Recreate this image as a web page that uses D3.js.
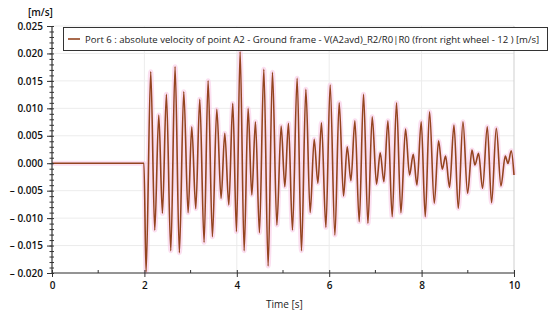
<!DOCTYPE html>
<html><head><meta charset="utf-8">
<script src="https://cdn.jsdelivr.net/npm/d3@7"></script>
<style>
body{margin:0;background:#fff;}
svg{display:block;font-family:"Open Sans","DejaVu Sans",sans-serif;}
</style></head><body>
<svg id="c" width="550" height="320"></svg>
<script>
// Data: times (s) and velocity values (m/s) at the extrema of the signal
const times = [0, 1.99,
 2.036,2.137,2.224,2.311,2.39,2.476,2.571,2.664,2.757,2.852,2.946,3.025,3.112,3.198,3.292,3.379,3.472,3.567,3.66,3.74,3.827,3.913,
 3.993,4.072,4.159,4.245,4.325,4.404,4.49,4.585,4.678,4.772,4.867,4.96,5.04,5.118,5.205,5.306,5.4,5.495,5.588,5.675,5.755,5.833,5.928,6.021,
 6.123,6.216,6.31,6.39,6.47,6.556,6.65,6.743,6.838,6.931,7.024,7.104,7.184,7.271,7.364,7.457,7.552,7.652,7.739,7.819,7.899,7.992,
 8.079,8.172,8.274,8.367,8.447,8.519,8.605,8.701,8.794,8.895,8.995,9.09,9.155,9.233,9.32,9.422,9.515,9.617,9.718,9.811,9.87,9.941,10.0];
const values = [0, 0,
 -0.0198,0.01667,-0.01217,0.00878,-0.00913,0.01255,-0.01594,0.01758,-0.0163,0.01303,-0.00901,0.00665,-0.00828,0.01164,-0.01441,0.01503,-0.01339,0.00981,-0.0064,0.00545,-0.00761,0.0109,
 -0.01247,0.0203,-0.01594,0.0100,-0.00579,0.00756,-0.01266,0.0171,-0.01873,0.01656,-0.01126,0.00678,-0.00428,0.00727,-0.01217,0.01547,-0.01594,0.01346,-0.00901,0.00435,-0.00366,0.00738,-0.01168,0.01425,
 -0.01308,0.01102,-0.00598,0.0030,-0.00319,0.00774,-0.01066,0.01255,-0.01095,0.00847,-0.00379,0.00191,-0.00337,0.00774,-0.00975,0.01102,-0.00901,0.00623,-0.00215,0.00162,-0.00397,0.00756,
 -0.00975,0.00938,-0.0073,0.0041,-0.00111,0.00131,-0.00439,0.00696,-0.00822,0.00756,-0.00548,0.0024,-0.00033,0.0018,-0.00457,0.00665,-0.0072,0.00636,-0.00415,0.00131,-0.00002,0.00228,-0.00215];
const xTicks = [0,2,4,6,8,10];
const xMinorTicks = [1,3,5,7,9];
const yTicks = [-0.020,-0.015,-0.010,-0.005,0.000,0.005,0.010,0.015,0.020,0.025];
const yTickLabels = ["– 0.020","– 0.015","– 0.010","– 0.005","0.000","0.005","0.010","0.015","0.020","0.025"];
const legendText = "Port 6 : absolute velocity of point A2 - Ground frame - V(A2avd)_R2/R0|R0 (front right wheel - 12 ) [m/s]";
const yUnit = "[m/s]";
const xTitle = "Time [s]";

const svg = d3.select("#c");
const L=52, R=514, T=26, B=273;
const x = d3.scaleLinear().domain([0,10]).range([L,R]);
const y = d3.scaleLinear().domain([-0.020,0.025]).range([B,T]);
const lineColor = "#94441f";

// grid
const g = svg.append("g");
g.selectAll(".hg").data(yTicks).join("line")
 .attr("x1",L).attr("x2",R).attr("y1",d=>y(d)).attr("y2",d=>y(d))
 .attr("stroke","#ececec").attr("stroke-width",1);
g.selectAll(".vg").data(xTicks.slice(1)).join("line")
 .attr("y1",T).attr("y2",B).attr("x1",d=>x(d)).attr("x2",d=>x(d))
 .attr("stroke",d=>d===10?"#cfcfcf":"#ececec").attr("stroke-width",1);

// line
const line = d3.line().x((d,i)=>x(times[i])).y(d=>y(d)).curve(d3.curveMonotoneX);
svg.append("path").datum(values).attr("d",line).attr("fill","none")
 .attr("stroke","#f9c9e6").attr("stroke-width",5).attr("stroke-opacity",0.6).attr("stroke-linejoin","round");
svg.append("path").datum(values).attr("d",line).attr("fill","none")
 .attr("stroke",lineColor).attr("stroke-width",1.6).attr("stroke-linejoin","round");

// axes
const axColor = "#333";
const yAxis = d3.axisLeft(y).tickValues(yTicks).tickFormat((d,i)=>yTickLabels[i]).tickSize(5).tickPadding(4);
const ya = svg.append("g").attr("transform",`translate(${L},0)`).call(yAxis);
const yMinor = d3.range(-20,26).map(v=>v/1000);
ya.append("g").selectAll("line").data(yMinor).join("line")
 .attr("x1",-2.5).attr("x2",2).attr("y1",d=>y(d)+0.5).attr("y2",d=>y(d)+0.5).attr("stroke",axColor);
const xAxis = d3.axisBottom(x).tickValues(xTicks).tickFormat(d3.format("d")).tickSize(4).tickPadding(5);
const xa = svg.append("g").attr("transform",`translate(0,${B})`).call(xAxis);
xa.selectAll(".tick line").attr("y1",-3);
xa.append("g").selectAll("line").data(xMinorTicks).join("line")
 .attr("x1",d=>x(d)).attr("x2",d=>x(d)).attr("y1",-3).attr("y2",0).attr("stroke",axColor);
[ya,xa].forEach(a=>{
  a.select(".domain").attr("stroke",axColor).attr("stroke-width",1.2);
  a.selectAll(".tick line").attr("stroke",axColor);
  a.selectAll("text").attr("fill","#111").attr("font-size",10).attr("font-weight",600)
   .attr("font-family",'"Open Sans","DejaVu Sans",sans-serif');
});
ya.select(".domain").attr("d",`M0,${B}V${T}`);
xa.select(".domain").attr("d",`M${L},0H${R}`);

// labels
svg.append("text").attr("x",28).attr("y",16).text(yUnit)
 .attr("font-size",10).attr("font-weight",600).attr("fill","#111");
svg.append("text").attr("x",266).attr("y",308).text(xTitle)
 .attr("font-size",10).attr("fill","#222");

// legend
const lg = svg.append("g");
lg.append("rect").attr("x",63.5).attr("y",27.5).attr("width",484).attr("height",23)
 .attr("fill","#fff").attr("stroke","#333").attr("stroke-width",1);
lg.append("line").attr("x1",68).attr("x2",80).attr("y1",39).attr("y2",39)
 .attr("stroke",lineColor).attr("stroke-width",1.6);
const lt = lg.append("text").attr("x",85).attr("y",43).text(legendText)
 .attr("font-size",11).attr("fill","#222");
const w = lt.node().getComputedTextLength();
lt.attr("font-size", 11*455/w);
</script>
</body></html>
